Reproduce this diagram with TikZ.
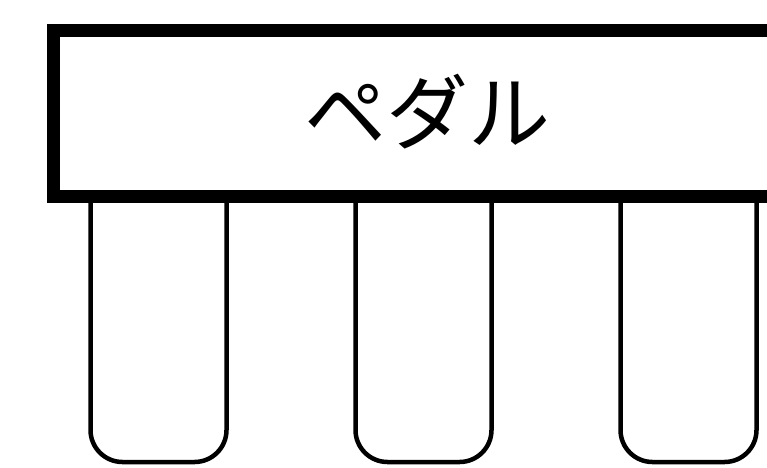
\documentclass[tikz,border=0pt]{standalone}
\usepackage{fontspec}
\newfontfamily\jpfont{Noto Sans CJK JP}
\tikzset{pedalbar/.style = {line width=4.5pt, rounded corners=32pt, fill=white},
         panel/.style = {line width=13pt, fill=white}}

\begin{document}
\begin{tikzpicture}[x=1pt, y=-1pt]
      \useasboundingbox (0, 0) rectangle (767, 467);
      \clip (0, 0) rectangle (767, 467);

      \foreach \x in {90.5, 355.5, 620.5}
        \draw [pedalbar] (\x, 190) -- (\x, 462) -- (\x + 136, 462) -- (\x + 136, 190);

      \draw [panel] (53.5, 30.5) rectangle (800, 196.5);

      \node (label) at (427, 112) {\jpfont\fontsize{82}{82}\selectfont ペダル};

    \end{tikzpicture}
\end{document}
